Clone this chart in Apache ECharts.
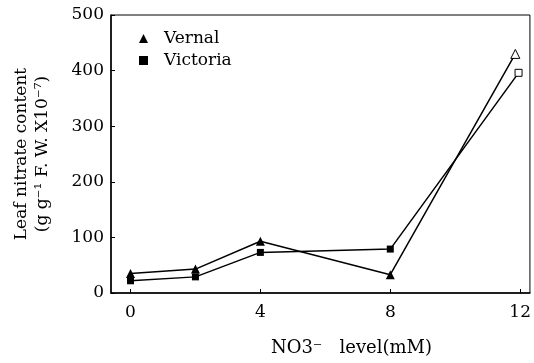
<!DOCTYPE html>
<html>
<head>
<meta charset="utf-8">
<script src="https://cdn.jsdelivr.net/npm/echarts@6/dist/echarts.min.js"></script>
<style>
  html, body { margin: 0; padding: 0; background: #fff; }
  #chart { width: 534px; height: 363px; }
</style>
</head>
<body>
<div id="chart"></div>
<script>
// NO3- level (mM) where each point sits
const vernalX = [0, 2, 4, 8, 11.85]
const vernalY = [35, 43, 93, 33, 430]
const victoriaX = [0, 2, 4, 8, 11.95]
const victoriaY = [22, 29, 73, 79, 396]
const xTicks = [0, 4, 8, 12]
const yTicks = [0, 100, 200, 300, 400, 500]

const font = 'DejaVu Serif'

// last point of each line is drawn open
function toPoints(xs, ys) {
  return xs.map((x, i) => {
    const p = { value: [x, ys[i]] }
    if (i === xs.length - 1) {
      p.itemStyle = { color: '#fff', borderColor: '#000', borderWidth: 1 }
    }
    return p
  })
}

const myChart = echarts.init(document.getElementById('chart'))
myChart.setOption({
  animation: false,
  textStyle: { fontFamily: font, color: '#000' },
  grid: {
    left: 111, right: 1, top: 15, bottom: 70,
    show: true, borderColor: '#000', borderWidth: 1
  },
  legend: {
    orient: 'vertical',
    left: 134, top: 25,
    itemWidth: 9, itemHeight: 9,
    itemGap: 5,
    textStyle: { fontFamily: font, fontSize: 17, color: '#000', padding: [0, 0, 0, 11] },
    data: [
      { name: 'Vernal', icon: 'triangle' },
      { name: 'Victoria', icon: 'rect' }
    ]
  },
  xAxis: {
    type: 'value',
    min: -0.6, max: 12.3,
    name: 'NO3\u207B   level(mM)',
    nameLocation: 'middle',
    nameGap: 46,
    nameTextStyle: { fontFamily: font, fontSize: 18, color: '#000', padding: [0, 0, 0, 62] },
    axisLine: { lineStyle: { color: '#000', width: 1.5 } },
    axisTick: { inside: true, length: 4, customValues: xTicks, lineStyle: { color: '#000' } },
    axisLabel: { customValues: xTicks, fontFamily: font, fontSize: 17, color: '#000', margin: 11 },
    splitLine: { show: false }
  },
  yAxis: {
    type: 'value',
    min: yTicks[0], max: yTicks[yTicks.length - 1], interval: 100,
    name: 'Leaf nitrate content\n(g g\u207B\u00B9 F. W. X10\u207B\u2077)',
    nameLocation: 'middle',
    nameGap: 58,
    nameRotate: 90,
    nameTextStyle: { fontFamily: font, fontSize: 17, color: '#000', lineHeight: 21, align: 'center' },
    axisLine: { show: true, onZero: false, lineStyle: { color: '#000', width: 1.5 } },
    axisTick: { show: true, inside: true, length: 4, lineStyle: { color: '#000' } },
    axisLabel: { fontFamily: font, fontSize: 17, color: '#000', margin: 7 },
    splitLine: { show: false }
  },
  series: [
    {
      name: 'Vernal',
      type: 'line',
      symbol: 'triangle',
      symbolSize: 9,
      itemStyle: { color: '#000' },
      lineStyle: { color: '#000', width: 1.5 },
      data: toPoints(vernalX, vernalY)
    },
    {
      name: 'Victoria',
      type: 'line',
      symbol: 'rect',
      symbolSize: 7,
      itemStyle: { color: '#000' },
      lineStyle: { color: '#000', width: 1.5 },
      data: toPoints(victoriaX, victoriaY)
    }
  ]
})
</script>
</body>
</html>
